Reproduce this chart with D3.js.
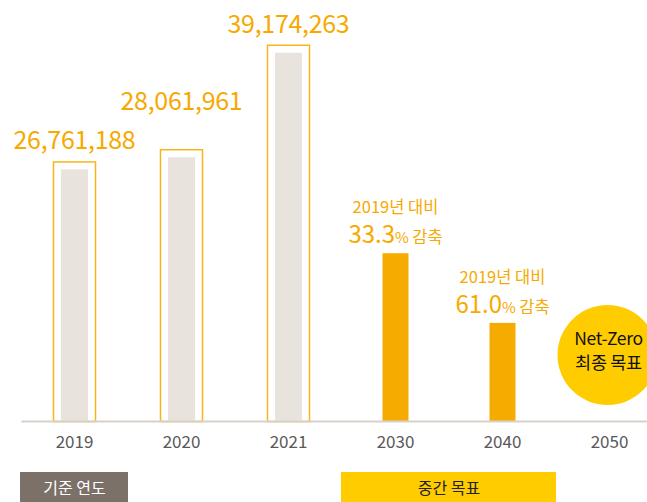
<!DOCTYPE html>
<html>
<head>
<meta charset="utf-8">
<script src="https://cdn.jsdelivr.net/npm/d3@7/dist/d3.min.js"></script>
<style>
  html, body { margin: 0; padding: 0; background: #fff; }
  svg { display: block; font-family: "Noto Sans CJK KR", "Noto Sans", sans-serif; }
</style>
</head>
<body>
<svg id="chart" width="647" height="502"></svg>
<script>
// Emissions by year: baseline years, intermediate targets, final target
const years = ["2019", "2020", "2021", "2030", "2040", "2050"];
const baseYears = ["2019", "2020", "2021"];
const baseValues = [26761188, 28061961, 39174263];
const targetYears = ["2030", "2040"];
const targetReduction = [33.3, 61.0]; // % reduction vs 2019
const finalYear = "2050";
const finalLines = ["Net-Zero", "최종 목표"];
const legendBase = { label: "기준 연도", from: "2019", to: "2019" };
const legendMid = { label: "중간 목표", from: "2030", to: "2040" };

const svg = d3.select("#chart");
const baselineY = 421;

const x = d3.scaleBand().domain(years).range([21, 663]).padding(0);
const y = d3.scaleLinear().domain([0, 40000000]).range([baselineY, baselineY - 376]);

const orange = "#f6ab00";
const labelOrange = "#f7a900";
const innerW = 27, pad = 8;

// Baseline-year bars: grey fill inside an orange frame
const base = svg.append("g");
let prevLabelY = Infinity;
baseYears.forEach((yr, i) => {
  const cx = x(yr) + x.bandwidth() / 2;
  const top = y(baseValues[i]);
  base.append("rect")
    .attr("x", cx - innerW / 2 - pad + 0.5)
    .attr("y", top - pad + 0.5)
    .attr("width", innerW + pad * 2 - 1)
    .attr("height", baselineY - top + pad)
    .attr("fill", "none")
    .attr("stroke", "#f8b41a")
    .attr("stroke-width", 1.5);
  base.append("rect")
    .attr("x", cx - innerW / 2)
    .attr("y", top)
    .attr("width", innerW)
    .attr("height", baselineY - top)
    .attr("fill", "#e8e3dc");
  // keep neighbouring value labels from colliding
  let ly = top - pad - 12;
  if (ly > prevLabelY - 39) ly = prevLabelY - 39;
  prevLabelY = ly;
  base.append("text")
    .attr("x", cx)
    .attr("y", ly)
    .attr("text-anchor", "middle")
    .attr("fill", labelOrange)
    .attr("font-size", 25)
    .attr("letter-spacing", -0.3)
    .text(d3.format(",")(baseValues[i]));
});

// Intermediate targets, derived from the 2019 value
const tg = svg.append("g");
targetYears.forEach((yr, i) => {
  const cx = x(yr) + x.bandwidth() / 2;
  const v = baseValues[0] * (1 - targetReduction[i] / 100);
  const top = y(v);
  tg.append("rect")
    .attr("x", cx - 13)
    .attr("y", top)
    .attr("width", 26)
    .attr("height", baselineY - top)
    .attr("fill", orange);
  tg.append("text")
    .attr("x", cx)
    .attr("y", top - 40)
    .attr("text-anchor", "middle")
    .attr("fill", labelOrange)
    .attr("font-size", 16.5)
    .text("2019년 대비");
  const t = tg.append("text")
    .attr("x", cx)
    .attr("y", top - 10)
    .attr("text-anchor", "middle")
    .attr("fill", labelOrange);
  t.append("tspan").attr("font-size", 24).text(targetReduction[i].toFixed(1));
  t.append("tspan").attr("font-size", 15).text("% ");
  t.append("tspan").attr("font-size", 16.5).text("감축");
});

// Final target bubble
const fx = x(finalYear) + x.bandwidth() / 2;
svg.append("circle")
  .attr("cx", fx - 2)
  .attr("cy", 355)
  .attr("r", 50)
  .attr("fill", "#ffcc00");
finalLines.forEach((s, i) => {
  svg.append("text")
    .attr("x", fx - 1)
    .attr("y", 345 + i * 24)
    .attr("text-anchor", "middle")
    .attr("fill", "#111")
    .attr("font-size", 17.5)
    .attr("letter-spacing", -0.3)
    .text(s);
});

// Year axis
const axis = svg.append("g")
  .attr("transform", `translate(0,${baselineY})`)
  .call(d3.axisBottom(x).tickSize(0).tickPadding(15));
axis.select(".domain").attr("stroke", "#d8d1c8").attr("stroke-width", 2);
axis.selectAll(".tick text")
  .attr("fill", "#595959")
  .attr("font-size", 17)
  .attr("font-family", "\"Noto Sans CJK KR\", sans-serif");

// Period boxes under the axis
[[legendBase, "#7b7169", "#fff"], [legendMid, "#ffcc00", "#222"]].forEach(([lg, fill, txt]) => {
  const x0 = x(lg.from), x1 = x(lg.to) + x.bandwidth();
  svg.append("rect")
    .attr("x", x0 - 1)
    .attr("y", 472)
    .attr("width", x1 - x0 + 1)
    .attr("height", 32)
    .attr("fill", fill);
  svg.append("text")
    .attr("x", (x0 + x1) / 2)
    .attr("y", 494)
    .attr("text-anchor", "middle")
    .attr("fill", txt)
    .attr("font-size", 16)
    .text(lg.label);
});
</script>
</body>
</html>
